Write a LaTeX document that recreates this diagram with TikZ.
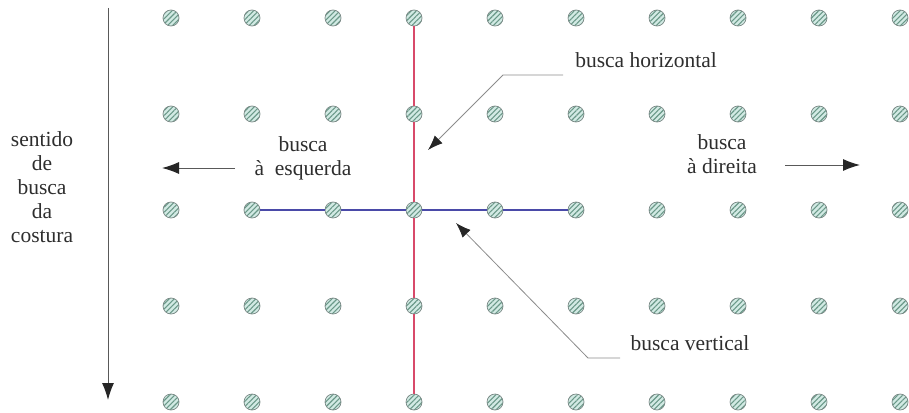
\documentclass[tikz,border=0pt]{standalone}
\usepackage{fontspec}
\setmainfont{Liberation Serif}
\usetikzlibrary{arrows.meta,patterns.meta}

\definecolor{dotfill}{HTML}{D2EAE4}
\definecolor{dothatch}{HTML}{6A9888}
\definecolor{dotline}{HTML}{7A8986}
\definecolor{hline}{HTML}{4A4AA8}
\definecolor{vline}{HTML}{D84A6A}
\definecolor{txt}{HTML}{2E2E2E}

\tikzset{
  dot/.style={circle,draw=dotline,line width=0.7pt,minimum size=16pt,inner sep=0pt,
    preaction={fill=dotfill},pattern={Lines[angle=45,distance=3.6pt,line width=1.1pt]},
    pattern color=dothatch},
  lbl/.style={text=txt,align=center,font=\fontsize{21.5}{24}\selectfont},
  dirarrow/.style={draw=black!65,line width=1pt,-{Latex[length=17pt,width=12pt,color=black!85]}},
  leader/.style={draw=black!45,line width=0.8pt,-{Latex[length=15pt,width=11pt,color=black!85]}}
}

\begin{document}
\begin{tikzpicture}[x=1pt,y=-1pt]
  \useasboundingbox[fill=white] (0,0) rectangle (909,412);
  % grid of points
  \foreach \r in {1,...,5}
    \foreach \c in {1,...,10}
      \node[dot] (p-\r-\c) at ({171+81*(\c-1)},{18+96*(\r-1)}) {};
  % vertical and horizontal search
  \draw[vline,line width=1.4pt] (p-1-4) -- (p-2-4) -- (p-3-4) -- (p-4-4) -- (p-5-4);
  \draw[hline,line width=1.4pt] (p-3-2) -- (p-3-3) -- (p-3-4) -- (p-3-5) -- (p-3-6);
  % direction of the seam search
  \coordinate (s0) at (108,8);
  \coordinate (s1) at (108,400);
  \draw[dirarrow] (s0) -- (s1);
  \node[lbl] (sent) at (42,187) {sentido\\de\\busca\\da\\costura};
  % left / right
  \node[lbl] (esq) at (303,158) {busca\\à\ \ esquerda};
  \coordinate (e0) at (235,168);
  \coordinate (e1) at (162,168);
  \draw[dirarrow] (e0) -- (e1);
  \node[lbl] (dir) at (722,154) {busca\\à direita};
  \coordinate (d0) at (785,165);
  \coordinate (d1) at (860,165);
  \draw[dirarrow] (d0) -- (d1);
  % leaders
  \node[lbl] (hz) at (646,60) {busca horizontal};
  \coordinate (h0) at (563,75);
  \coordinate (h1) at (503,75);
  \coordinate (h2) at (428,150);
  \draw[leader] (h0) -- (h1) -- (h2);
  \node[lbl] (vt) at (690,343) {busca vertical};
  \coordinate (v0) at (620,358);
  \coordinate (v1) at (588,358);
  \coordinate (v2) at (456,223);
  \draw[leader] (v0) -- (v1) -- (v2);
\end{tikzpicture}
\end{document}
